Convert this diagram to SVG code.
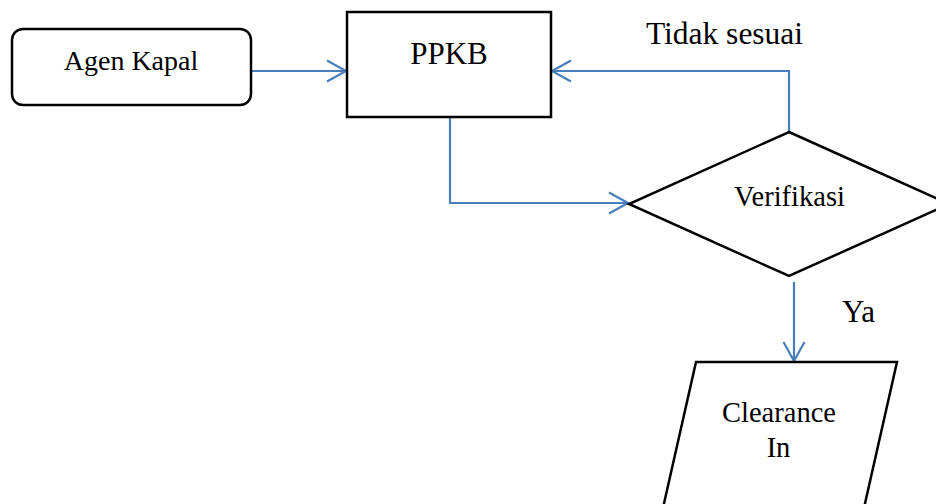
<svg xmlns="http://www.w3.org/2000/svg" width="936" height="504" viewBox="0 0 936 504">
  <style>
    .shape { fill: #ffffff; stroke: #000000; stroke-width: 2.5; }
    .link { fill: none; stroke: #4a7ebb; stroke-width: 2.2; }
    .label { font-family: "Liberation Serif", "Times New Roman", serif; fill: #000000; text-anchor: middle; }
  </style>
  <defs>
    <marker id="arrow" markerUnits="userSpaceOnUse" markerWidth="24" markerHeight="26" viewBox="-21 -12 24 24" refX="0" refY="0" orient="auto">
      <path d="M -19 -10.5 L 0 0 L -19 10.5" fill="none" stroke="#4a7ebb" stroke-width="2.2"/>
    </marker>
  </defs>

  <rect width="936" height="504" fill="#ffffff"/>

  <g id="connectors">
    <path class="link" d="M 251 71 L 346 71" marker-end="url(#arrow)"/>
    <path class="link" d="M 450 117 L 450 203 L 628 203" marker-end="url(#arrow)"/>
    <path class="link" d="M 789 132 L 789 71 L 552 71" marker-end="url(#arrow)"/>
    <path class="link" d="M 794 282 L 794 361" marker-end="url(#arrow)"/>
    <text class="label" x="724.5" y="44" font-size="31.5">Tidak sesuai</text>
    <text class="label" x="858.5" y="322" font-size="31">Ya</text>
  </g>

  <g id="agen-kapal">
    <rect class="shape" x="12" y="29" width="239" height="76" rx="11" ry="11"/>
    <text class="label" x="131" y="70" font-size="28">Agen Kapal</text>
  </g>

  <g id="ppkb">
    <rect class="shape" x="347" y="12" width="204" height="105"/>
    <text class="label" x="449" y="64" font-size="31">PPKB</text>
  </g>

  <g id="verifikasi">
    <polygon class="shape" points="789,132 949,204 789,276 629,204"/>
    <text class="label" x="789.5" y="206" font-size="28.5">Verifikasi</text>
  </g>

  <g id="clearance-in">
    <polygon class="shape" points="696,362 897,362 859,530 658,530"/>
    <text class="label" x="779" y="422" font-size="28.5">Clearance</text>
    <text class="label" x="778.5" y="457" font-size="28.5">In</text>
  </g>
</svg>
